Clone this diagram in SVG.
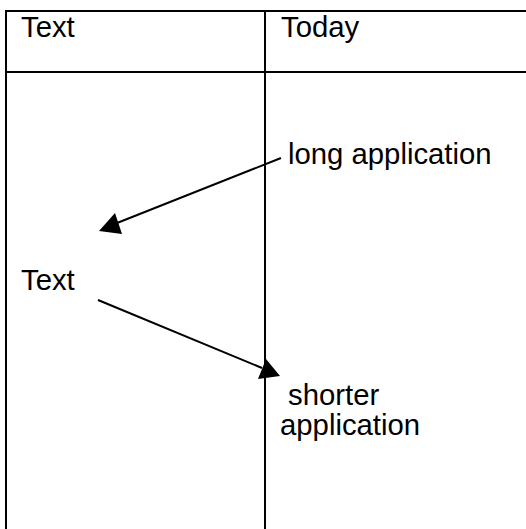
<svg xmlns="http://www.w3.org/2000/svg" width="526" height="529" viewBox="0 0 526 529">
<style>
.ln{stroke:#000;stroke-width:2;fill:none}
.t{font-family:"Liberation Sans",Arial,sans-serif;font-size:29.3px;fill:#000}
.ah{fill:#000}
</style>
<rect width="526" height="529" fill="#fff"/>
<g id="table">
<line class="ln" x1="6" y1="11" x2="526" y2="11"/>
<line class="ln" x1="6" y1="72" x2="526" y2="72"/>
<line class="ln" x1="6" y1="10" x2="6" y2="529"/>
<line class="ln" x1="265" y1="10" x2="265" y2="529"/>
</g>
<g id="header-text"><text class="t" x="21" y="37">Text</text></g>
<g id="header-today"><text class="t" x="281" y="37">Today</text></g>
<g id="node-text"><text class="t" x="21" y="290">Text</text></g>
<g id="node-long"><text class="t" x="288" y="164">long application</text></g>
<g id="node-shorter"><text class="t" x="288" y="405">shorter</text><text class="t" x="280" y="435">application</text></g>
<g id="connectors">
<line class="ln" x1="281" y1="158" x2="112" y2="225"/>
<polygon class="ah" points="99,231 115,213 122,234"/>
<line class="ln" x1="98" y1="300" x2="262" y2="368"/>
<polygon class="ah" points="266,359 258,379 280,376"/>
</g>
</svg>
